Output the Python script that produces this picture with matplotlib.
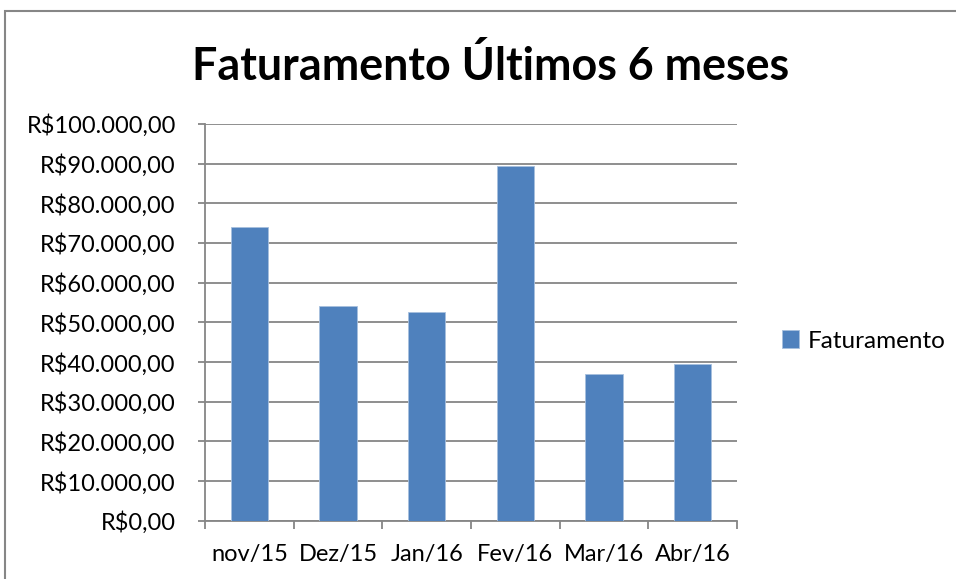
import matplotlib
matplotlib.use("Agg")
import matplotlib.pyplot as plt
from matplotlib.patches import Rectangle
from matplotlib.ticker import FuncFormatter, FixedLocator

plt.rcParams['font.family'] = ['Lato', 'DejaVu Sans']

meses = ["nov/15", "Dez/15", "Jan/16", "Fev/16", "Mar/16", "Abr/16"]
faturamento = [74000, 54200, 52700, 89400, 37000, 39400]

BLUE = "#4F81BD"
GRID = "#868686"


def brl(v, pos=None):
    s = "{:,.2f}".format(v)
    s = s.replace(",", "X").replace(".", ",").replace("X", ".")
    return "R$" + s


fig = plt.figure(figsize=(9.56, 5.79), dpi=100)
ax = fig.add_axes([205 / 956, 1 - 520.7 / 579, (737 - 205) / 956, (520.7 - 124) / 579])

x = list(range(len(meses)))
ax.bar(x, faturamento, width=0.42, color=BLUE, edgecolor="#a7c0de", linewidth=0.6,
       label="Faturamento", zorder=3)

ax.set_xlim(-0.5, len(meses) - 0.5)
ax.set_ylim(0, 100000)
ax.set_yticks(range(0, 100001, 10000))
ax.yaxis.set_major_formatter(FuncFormatter(brl))
ax.yaxis.grid(True, color=GRID, linewidth=1.3, zorder=0)

# categorias no centro, ticks nos limites entre elas
ax.set_xticks(x)
ax.set_xticklabels(meses)
ax.xaxis.set_minor_locator(FixedLocator([i - 0.5 for i in range(len(meses) + 1)]))
ax.tick_params(axis="x", which="major", length=0, pad=17, labelsize=17)
ax.tick_params(axis="x", which="minor", length=6, color=GRID, width=1.3)
ax.tick_params(axis="y", length=5, color=GRID, width=1.3, labelsize=17, pad=16)

for side in ("top", "right"):
    ax.spines[side].set_visible(False)
for side in ("left", "bottom"):
    ax.spines[side].set_color(GRID)
    ax.spines[side].set_linewidth(1.3)

fig.text(491 / 956, 1 - 66 / 579, "Faturamento Últimos 6 meses", ha="center", va="center",
         fontsize=32.3, fontweight="bold")

fig.legend(loc="center left", bbox_to_anchor=(760 / 956, 1 - 341 / 579), frameon=False,
           fontsize=17.5, handlelength=0.7, handleheight=0.7, handletextpad=0.35)

# borda do gráfico
fig.patches.append(Rectangle((5 / 956, -0.1), 1.2, 1.1 - 11 / 579,
                             transform=fig.transFigure, fill=False,
                             edgecolor=GRID, linewidth=1.5))

fig.savefig("out.png", dpi=100)
